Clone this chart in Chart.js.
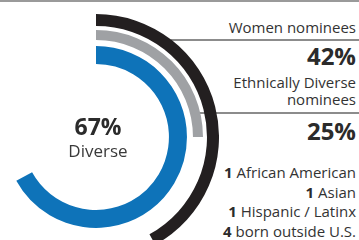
<!DOCTYPE html>
<html>
<head>
<meta charset="utf-8">
<script src="https://cdn.jsdelivr.net/npm/chart.js@4.4.0/dist/chart.umd.min.js"></script>
<style>
  html, body { margin:0; padding:0; width:359px; height:240px; overflow:hidden; background:#fff; }
  body { position:relative; font-family:"Open Sans", "Noto Sans", sans-serif; color:#333; }
  #wrap { position:absolute; left:-27px; top:14px; width:246px; height:246px; z-index:2; }
  .rule { position:absolute; height:2px; background:#8c8c8c; z-index:1; }
  .t { position:absolute; right:3px; white-space:nowrap; text-align:right; z-index:3; line-height:1; }
  .c { position:absolute; text-align:center; white-space:nowrap; z-index:3; line-height:1; }
  b { font-weight:700; color:#2b2b2b; }
</style>
</head>
<body>
<div class="rule" style="left:0;top:0;width:359px;background:#9a9a9a;"></div>
<div class="rule" style="left:171px;top:39px;width:188px;"></div>
<div class="rule" style="left:195px;top:112px;width:164px;"></div>
<div id="wrap"><canvas id="chart" width="246" height="246"></canvas></div>
<div id="texts"></div>
<script>
// ---- data ----
const ringLabels = ['Women nominees', 'Ethnically Diverse nominees', 'Diverse'];
const ringValues = [42, 25, 67];
const breakdownCounts = [1, 1, 1, 4];
const breakdownLabels = ['African American', 'Asian', 'Hispanic / Latinx', 'born outside U.S.'];

// ---- styles ----
const ringColors = ['#231f20', '#9fa1a4', '#0e73b9'];
const ringWeights = [12, 10, 18];
const gapWeights = [4, 6];

const datasets = [];
ringValues.forEach((v, i) => {
  datasets.push({
    label: ringLabels[i],
    data: [v, 100 - v],
    backgroundColor: [ringColors[i], 'rgba(0,0,0,0)'],
    borderWidth: 0,
    weight: ringWeights[i]
  });
  if (i < gapWeights.length) {
    datasets.push({
      label: 'gap' + i,
      data: [100],
      backgroundColor: ['rgba(0,0,0,0)'],
      borderWidth: 0,
      weight: gapWeights[i]
    });
  }
});

new Chart(document.getElementById('chart'), {
  type: 'doughnut',
  data: { labels: ['value', 'rest'], datasets },
  options: {
    responsive: false,
    animation: false,
    devicePixelRatio: 1,
    cutout: '59.3%',
    layout: { padding: 0 },
    events: [],
    plugins: { legend: { display: false }, tooltip: { enabled: false } }
  }
});

// ---- text ----
const T = document.getElementById('texts');
function add(html, cls, style) {
  const d = document.createElement('div');
  d.className = cls;
  d.innerHTML = html;
  d.setAttribute('style', style);
  T.appendChild(d);
}
add(ringLabels[0], 't', 'top:20px;font-size:15px;');
add('<b>' + ringValues[0] + '%</b>', 't', 'top:44px;font-size:24px;');
add('Ethnically Diverse', 't', 'top:75px;font-size:15px;');
add('nominees', 't', 'top:92px;font-size:15px;');
add('<b>' + ringValues[1] + '%</b>', 't', 'top:119px;font-size:24px;');
const bTops = [165, 185, 204, 224];
breakdownLabels.forEach((l, i) => {
  add('<b>' + breakdownCounts[i] + '</b> ' + l, 't', 'top:' + bTops[i] + 'px;font-size:15px;');
});
add('<b>' + ringValues[2] + '%</b>', 'c', 'left:46px;width:104px;top:115px;font-size:23px;');
add(ringLabels[2], 'c', 'left:46px;width:104px;top:142px;font-size:17px;color:#3a3a3a;');
</script>
</body>
</html>
